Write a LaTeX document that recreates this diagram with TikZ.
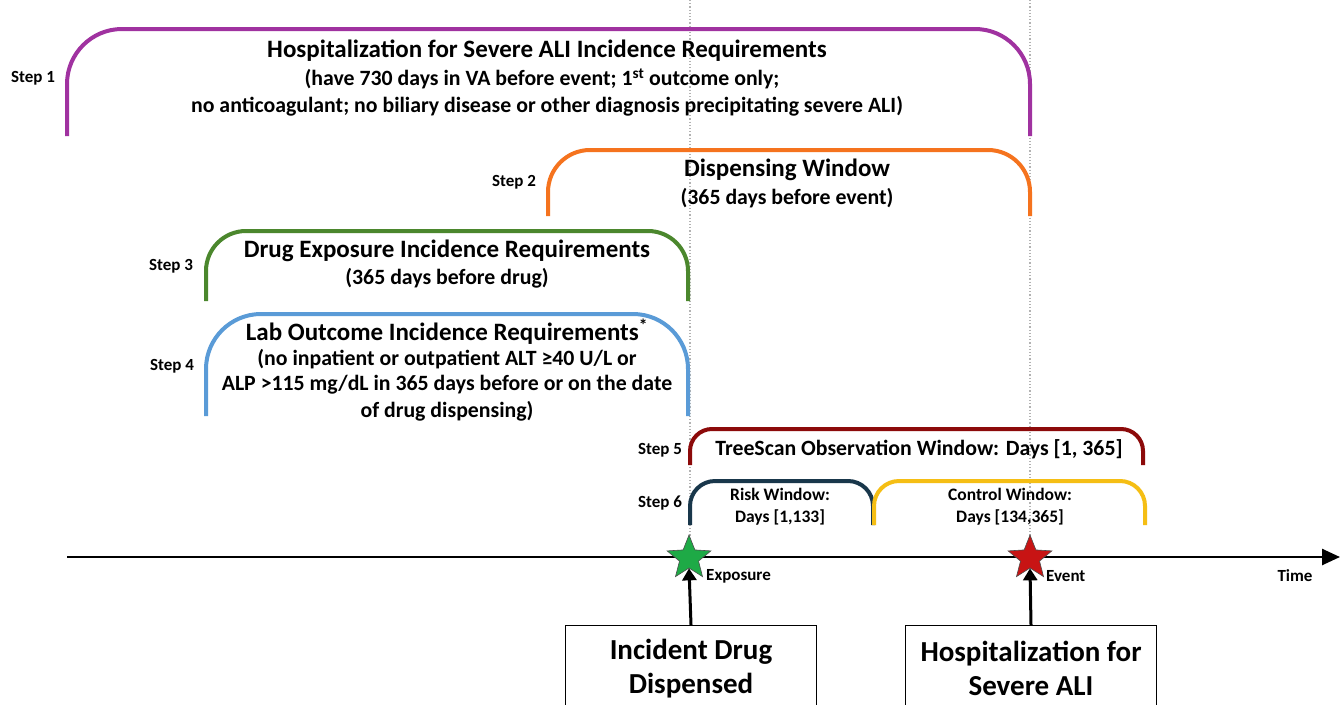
\documentclass[tikz,border=0pt]{standalone}
\usepackage{fontspec}
\setmainfont{Carlito}
\usetikzlibrary{shapes.geometric,arrows.meta}
\definecolor{cpurple}{RGB}{160,50,160}
\definecolor{corange}{RGB}{245,115,30}
\definecolor{cgreen}{RGB}{75,135,45}
\definecolor{cblue}{RGB}{90,155,215}
\definecolor{cdarkred}{RGB}{140,10,10}
\definecolor{cnavy}{RGB}{25,55,75}
\definecolor{cyellow}{RGB}{245,190,20}
\definecolor{cstargreen}{RGB}{30,170,70}
\definecolor{cstarred}{RGB}{200,20,20}
\begin{document}
\begin{tikzpicture}[x=1pt,y=-1pt,
  arcline/.style={line width=4pt},
  guide/.style={gray!60, dotted, line width=1.2pt},
  steplabel/.style={font=\bfseries\fontsize{17}{20}\selectfont, inner sep=0pt},
  bigtext/.style={font=\bfseries\fontsize{25}{28}\selectfont, inner sep=0pt},
  midtext/.style={font=\bfseries\fontsize{21.8}{24}\selectfont, inner sep=0pt},
  smalltext/.style={font=\bfseries\fontsize{17.5}{20}\selectfont, inner sep=0pt},
  boxtext/.style={draw=black, line width=1.2pt, minimum width=251pt, minimum height=85pt, align=center, font=\bfseries\fontsize{29}{34}\selectfont, anchor=north},
  startip/.style={star, star points=5, star point ratio=2.3, minimum size=46pt, inner sep=0pt, draw=black!70, line width=0.6pt},
  uparrow/.style={line width=3pt, -{Triangle[length=12pt,width=14pt]}}
]
\useasboundingbox (0,0) rectangle (1343,704);
\fill[white] (0,0) rectangle (1343,704);

% guides
\draw[guide] (690,0) -- (690,560);
\draw[guide] (1030,0) -- (1030,560);

% Step 1
\draw[arcline, cpurple, rounded corners=55pt] (67,136) -- (67,29) -- (1030,29) -- (1030,136);
\node[steplabel] (s1) at (33,78) {Step 1};
\node[bigtext] (t1a) at (547,51) {Hospitalization for Severe ALI Incidence Requirements};
\node[midtext] (t1b) at (542,79) {(have 730 days in VA before event; 1\textsuperscript{st} outcome only;};
\node[midtext] (t1c) at (547,106) {no anticoagulant; no biliary disease or other diagnosis precipitating severe ALI)};

% Step 2
\draw[arcline, corange, rounded corners=42pt] (548,216) -- (548,150) -- (1030,150) -- (1030,216);
\node[steplabel] (s2) at (514,182) {Step 2};
\node[bigtext] (t2a) at (787,170) {Dispensing Window};
\node[midtext] (t2b) at (787,198) {(365 days before event)};

% Step 3
\draw[arcline, cgreen, rounded corners=40pt] (206,301) -- (206,231) -- (688,231) -- (688,301);
\node[steplabel] (s3) at (171,266) {Step 3};
\node[bigtext] (t3a) at (447,251) {Drug Exposure Incidence Requirements};
\node[midtext] (t3b) at (447,278) {(365 days before drug)};

% Step 4
\draw[arcline, cblue, rounded corners=55pt] (206,416) -- (206,314) -- (688,314) -- (688,416);
\node[steplabel] (s4) at (172,366) {Step 4};
\node[bigtext] (t4a) at (447,332) {Lab Outcome Incidence Requirements\textsuperscript{*}};
\node[midtext] (t4b) at (447,359) {(no inpatient or outpatient ALT ≥40 U/L or};
\node[midtext] (t4c) at (447,385) {ALP >115 mg/dL in 365 days before or on the date};
\node[midtext] (t4d) at (447,411) {of drug dispensing)};

% Step 5
\draw[arcline, cdarkred, rounded corners=22pt] (690,465) -- (690,429) -- (1143,429) -- (1143,465);
\node[steplabel] (s5) at (660,450) {Step 5};
\node[midtext] (t5) at (919,449) {TreeScan Observation Window: Days [1, 365]};

% Step 6
\draw[arcline, cnavy, rounded corners=25pt] (690,525) -- (690,481) -- (873,481) -- (873,525);
\draw[arcline, cyellow, rounded corners=25pt] (874,525) -- (874,481) -- (1145,481) -- (1145,525);
\node[steplabel] (s6) at (660,503) {Step 6};
\node[smalltext] (t6a) at (780,494) {Risk Window:};
\node[smalltext] (t6b) at (780,517) {Days [1,133]};
\node[smalltext] (t6c) at (1010,494) {Control Window:};
\node[smalltext] (t6d) at (1010,517) {Days [134,365]};

% time axis
\coordinate (axstart) at (67,557);
\coordinate (axend) at (1340,557);
\draw[line width=2.5pt, -{Triangle[length=18pt,width=16pt]}] (axstart) -- (axend);
\node[steplabel] (time) at (1295,576) {Time};

% stars
\node[startip, fill=cstargreen] (expo) at (689,558) {};
\node[startip, fill=cstarred] (event) at (1030,558) {};
\node[steplabel, anchor=west] (expolab) at (706,576) {Exposure};
\node[steplabel, anchor=west] (eventlab) at (1046,576) {Event};

% boxes
\node[boxtext] (box1) at (691,625) {Incident Drug\\Dispensed};
\node[boxtext] (box2) at (1031,625) {Hospitalization for\\Severe ALI};
\draw[uparrow] (box1.north) -- (expo.south);
\draw[uparrow] (box2.north) -- (event.south);
\end{tikzpicture}
\end{document}
